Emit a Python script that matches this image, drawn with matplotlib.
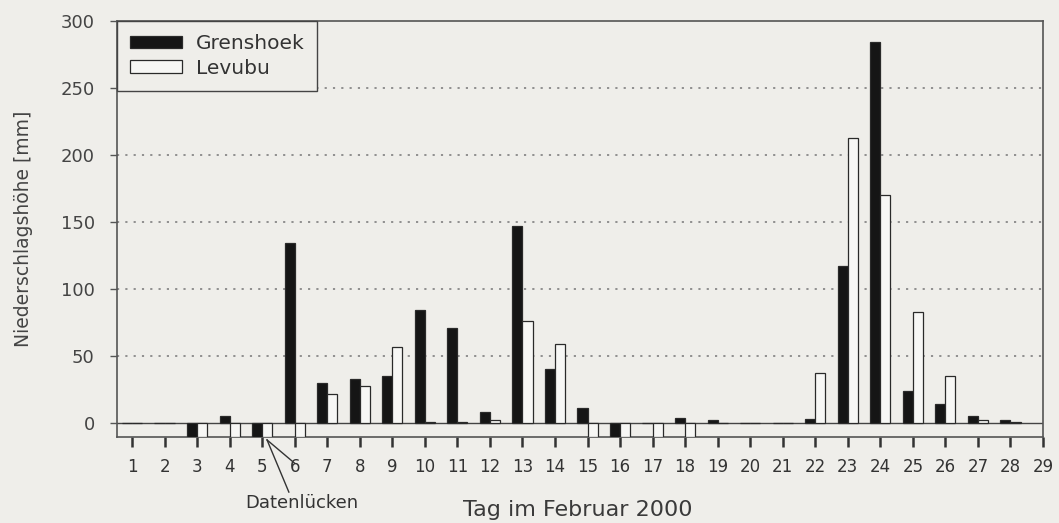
import numpy as np
import matplotlib
matplotlib.use("Agg")
import matplotlib.pyplot as plt

plt.rcParams['font.family'] = ['DejaVu Sans']

days = list(range(1, 29))
tick_labels = [str(d) for d in range(1, 30)]
nan = np.nan
# Niederschlag [mm]; nan = Datenlücke
grenshoek = [0, 0, nan, 5, nan, 134, 30, 33, 35, 84, 71, 8, 147, 40,
             11, nan, 0, 4, 2, 0, 0, 3, 117, 284, 24, 14, 5, 2]
levubu = [0, 0, nan, nan, nan, nan, 22, 28, 57, 1, 1, 2, 76, 59,
          nan, nan, nan, nan, 0, 0, 0, 37, 213, 170, 83, 35, 2, 1]

BG = '#efeeea'
EDGE = '#2a2a2a'
YMIN = -10.4

fig = plt.figure(figsize=(10.59, 5.23), dpi=100, facecolor=BG)
ax = fig.add_axes([117/1059, 1-437/523, (1043-117)/1059, (437-21)/523])
ax.set_facecolor(BG)

w = 0.31
x = np.array(days, dtype=float)
g = np.array(grenshoek, dtype=float)
l = np.array(levubu, dtype=float)

def draw(vals, xpos, face, label):
    ok = ~np.isnan(vals)
    ax.bar(xpos[ok], vals[ok], width=w, color=face, edgecolor=EDGE,
           linewidth=0.9, label=label, zorder=3)
    gap = np.isnan(vals)
    ax.bar(xpos[gap], np.full(gap.sum(), YMIN), width=w, color=face,
           edgecolor=EDGE, linewidth=0.9, zorder=3)

draw(g, x - w/2, '#151515', 'Grenshoek')
draw(l, x + w/2, '#f7f7f5', 'Levubu')

ax.axhline(0, color='#444444', lw=1.0, zorder=2)
for yv in [50, 100, 150, 200, 250]:
    ax.axhline(yv, color='#888888', lw=1.3, ls=(0, (1.2, 3.4)), zorder=1)

ax.set_xlim(0.538, 29)
ax.set_ylim(YMIN, 300)
ax.set_xticks(range(1, 30))
ax.set_xticklabels(tick_labels)
ax.set_yticks([0, 50, 100, 150, 200, 250, 300])

for s in ax.spines.values():
    s.set_color('#555555')
    s.set_linewidth(1.2)

ax.tick_params(axis='x', direction='out', length=7, width=1.8, color='#333333',
               labelsize=12, pad=8, labelcolor='#333333')
ax.tick_params(axis='y', direction='out', length=5, width=1.0, color='#555555',
               labelsize=13, pad=11, labelcolor='#444444')

ax.set_ylabel('Niederschlagshöhe [mm]', fontsize=13.5, color='#444444', labelpad=20)
fig.text(578/1059, 1-510/523, 'Tag im Februar 2000', ha='center', va='center',
         fontsize=16, color='#3a3a3a')

# Datenlücken annotation
ax.plot([5.15, 5.82], [-12.6, -51.5], color='#333333', lw=1.0, clip_on=False)
ax.plot([5.15, 6.0], [-12.6, -30.0], color='#333333', lw=1.0, clip_on=False)
ax.text(6.23, -59.7, 'Datenlücken', ha='center', va='center', fontsize=13,
        color='#333333')

leg = ax.legend(loc='upper left', bbox_to_anchor=(0, 1), borderaxespad=0,
                fancybox=False, framealpha=1, facecolor=BG, edgecolor='#444444',
                fontsize=14.5, handlelength=2.6, handleheight=0.6,
                borderpad=0.65, labelspacing=0.28, handletextpad=0.65)
leg.get_frame().set_linewidth(1.0)
for t in leg.get_texts():
    t.set_color('#333333')
leg.set_zorder(5)

fig.savefig('out.png', dpi=100, facecolor=BG)
